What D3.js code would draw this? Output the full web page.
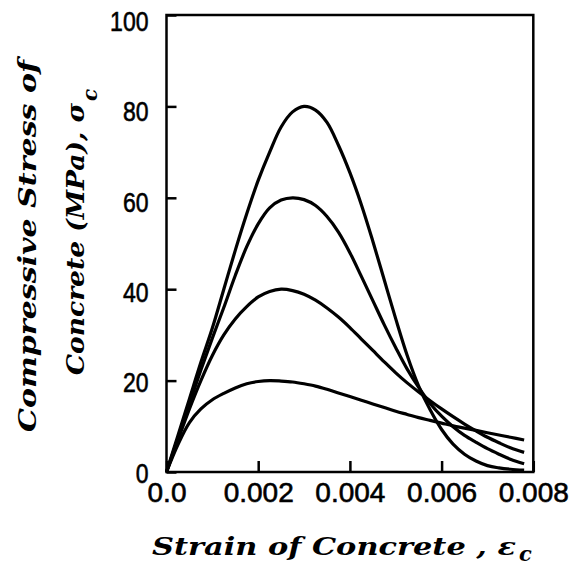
<!DOCTYPE html>
<html>
<head>
<meta charset="utf-8">
<script src="https://cdn.jsdelivr.net/npm/d3@7"></script>
<style>
  html, body { margin: 0; padding: 0; background: #fff; }
  svg { display: block; }
</style>
</head>
<body>
<svg id="chart" width="577" height="569"></svg>
<script>
// ---- Data (strain in units of 1, stress in MPa) ----
const strain = [0, 0.00025, 0.0005, 0.00075, 0.001, 0.00125, 0.0015, 0.00175, 0.002, 0.00225,
  0.0025, 0.00275, 0.003, 0.00325, 0.0035, 0.00375, 0.004, 0.00425, 0.0045, 0.00475,
  0.005, 0.00525, 0.0055, 0.00575, 0.006, 0.00625, 0.0065, 0.00675, 0.007, 0.00725, 0.0075, 0.0078];

const stress20 = [0, 6.0, 10.8, 13.8, 15.8, 17.2, 18.4, 19.3, 19.8, 20.0,
  19.9, 19.7, 19.3, 18.8, 18.1, 17.3, 16.5, 15.7, 14.9, 14.1,
  13.3, 12.6, 11.9, 11.3, 10.7, 10.1, 9.6, 9.1, 8.6, 8.1, 7.6, 7.0];

const stress40 = [0, 7.0, 13.8, 20.0, 25.5, 30.0, 33.5, 36.2, 38.3, 39.5,
  40.0, 39.7, 38.9, 37.6, 35.9, 33.9, 31.6, 29.1, 26.6, 24.1,
  21.7, 19.5, 17.5, 15.6, 13.8, 12.1, 10.5, 9.0, 7.6, 6.4, 5.3, 4.3];

const stress60 = [0, 7.5, 15.0, 22.3, 29.3, 36.0, 43.0, 49.3, 54.3, 57.8,
  59.5, 60.0, 59.6, 58.3, 55.9, 52.5, 48.0, 42.8, 37.5, 32.2,
  27.2, 22.5, 18.5, 15.0, 12.2, 9.9, 8.0, 6.5, 5.1, 3.9, 2.8, 1.8];

const stress80 = [0, 8.0, 16.0, 24.0, 31.5, 40.0, 48.5, 56.5, 63.8, 70.0,
  75.5, 78.8, 80.0, 79.2, 76.5, 71.5, 65.5, 58.5, 50.5, 42.0,
  33.5, 25.5, 18.8, 13.6, 9.3, 6.1, 3.9, 2.4, 1.4, 0.9, 0.6, 0.4];

const seriesList = [stress20, stress40, stress60, stress80];

const xTickValues = [0, 0.002, 0.004, 0.006, 0.008];
const xTickLabels = ["0.0", "0.002", "0.004", "0.006", "0.008"];
const yTickValues = [0, 20, 40, 60, 80, 100];
const yTickLabels = ["0", "20", "40", "60", "80", "100"];

// ---- Layout ----
const svg = d3.select("#chart");
const plotLeft = 166.5, plotRight = 533.3, plotTop = 15, plotBottom = 472;

const x = d3.scaleLinear().domain([0, 0.008]).range([plotLeft, plotRight]);
const y = d3.scaleLinear().domain([0, 100]).range([plotBottom, plotTop]);

// Axes with inward ticks
const yAxis = d3.axisLeft(y)
  .tickValues(yTickValues)
  .tickSize(-10)
  .tickSizeOuter(0)
  .tickPadding(18)
  .tickFormat((d, i) => yTickLabels[i]);

const xAxis = d3.axisBottom(x)
  .tickValues(xTickValues)
  .tickSize(-11)
  .tickSizeOuter(0)
  .tickPadding(10)
  .tickFormat((d, i) => xTickLabels[i]);

const gy = svg.append("g").attr("transform", `translate(${plotLeft},0)`).call(yAxis);
const gx = svg.append("g").attr("transform", `translate(0,${plotBottom})`).call(xAxis);

[gx, gy].forEach(g => {
  g.select(".domain").remove();
  g.selectAll(".tick line").attr("stroke", "#000").attr("stroke-width", 2.5);
  g.selectAll(".tick text")
    .attr("fill", "#000")
    .attr("font-family", "'Liberation Sans', Arial, sans-serif")
    .attr("stroke", "#000").attr("stroke-width", 0.6)
    .attr("lengthAdjust", "spacingAndGlyphs");
});
gy.selectAll(".tick text")
  .attr("font-size", 28)
  .attr("dy", d => (0.36 * 28 + 5.5 * d / 100) + "px")
  .attr("textLength", (d, i) => yTickLabels[i].length * 12.8);
gx.selectAll(".tick text")
  .attr("font-size", 28);

// Frame
svg.append("rect")
  .attr("x", plotLeft).attr("y", plotTop)
  .attr("width", plotRight - plotLeft).attr("height", plotBottom - plotTop)
  .attr("fill", "none").attr("stroke", "#000").attr("stroke-width", 2.5);

// Curves
const line = d3.line()
  .x((d, i) => x(strain[i]))
  .y(d => y(d))
  .curve(d3.curveCatmullRom.alpha(0.5));

svg.append("g").selectAll("path")
  .data(seriesList)
  .join("path")
  .attr("d", d => line(d))
  .attr("fill", "none")
  .attr("stroke", "#000")
  .attr("stroke-width", 3.2)
  .attr("stroke-linejoin", "round");

// Titles
const titleFont = "'DejaVu Serif', serif";

// X title
svg.append("text")
  .attr("x", 152).attr("y", 555)
  .attr("font-family", titleFont).attr("font-weight", "bold").attr("font-style", "italic")
  .attr("font-size", 25)
  .attr("textLength", 364).attr("lengthAdjust", "spacingAndGlyphs")
  .attr("fill", "#000")
  .text("Strain of Concrete , ε");
svg.append("text")
  .attr("x", 519).attr("y", 561)
  .attr("font-family", titleFont).attr("font-weight", "bold").attr("font-style", "italic")
  .attr("font-size", 21)
  .attr("fill", "#000")
  .text("c");

// Y title line 1
svg.append("text")
  .attr("transform", "translate(36,432) rotate(-90)")
  .attr("font-family", titleFont).attr("font-weight", "bold").attr("font-style", "italic")
  .attr("font-size", 25)
  .attr("textLength", 372).attr("lengthAdjust", "spacingAndGlyphs")
  .attr("fill", "#000")
  .text("Compressive Stress of");

// Y title line 2
svg.append("text")
  .attr("transform", "translate(84,375) rotate(-90)")
  .attr("font-family", titleFont).attr("font-weight", "bold").attr("font-style", "italic")
  .attr("font-size", 25)
  .attr("textLength", 272).attr("lengthAdjust", "spacingAndGlyphs")
  .attr("fill", "#000")
  .text("Concrete (MPa), σ");
svg.append("text")
  .attr("transform", "translate(84,101) rotate(-90)")
  .attr("y", 13)
  .attr("font-family", titleFont).attr("font-weight", "bold").attr("font-style", "italic")
  .attr("font-size", 20)
  .attr("fill", "#000")
  .text("c");
</script>
</body>
</html>
